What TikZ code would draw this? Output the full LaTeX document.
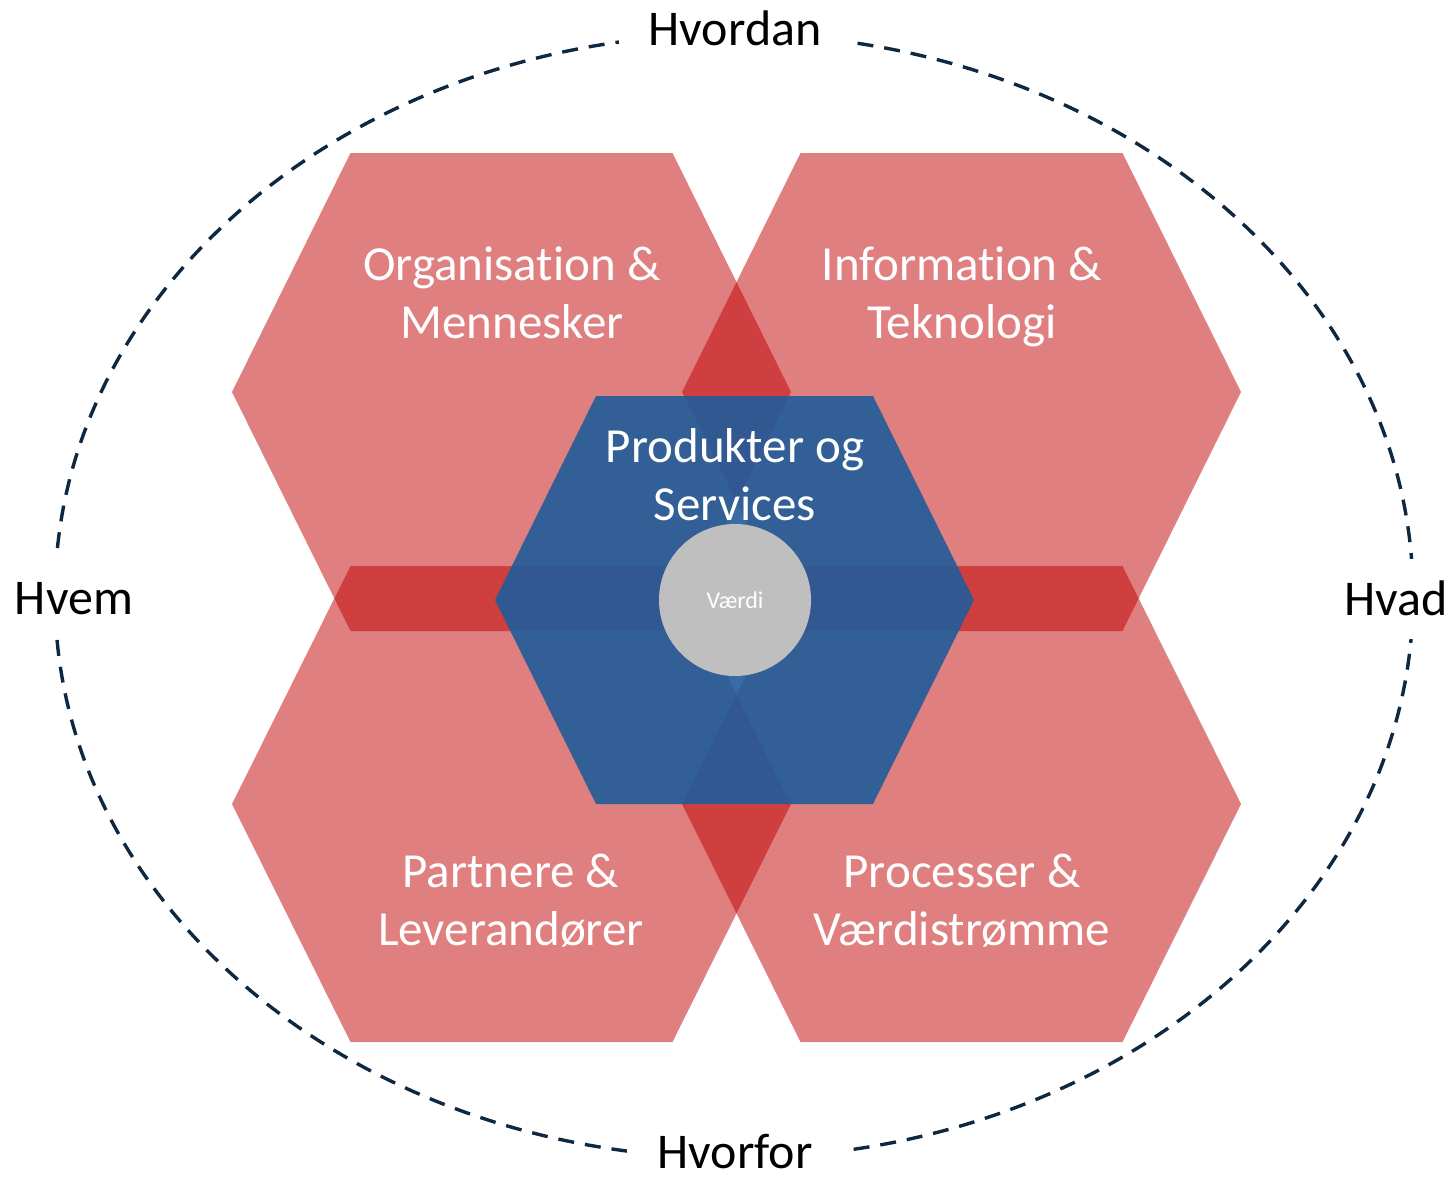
\documentclass[tikz,border=0pt]{standalone}
\usepackage{fontspec}
\setmainfont{Carlito}[Ligatures=NoCommon]
\definecolor{hexred}{HTML}{C00000}
\definecolor{hexblue}{HTML}{215C9B}
\definecolor{ringcol}{HTML}{0E2841}
\definecolor{valgray}{HTML}{BFBFBF}
\begin{document}
\begin{tikzpicture}[x=0.5pt,y=-0.5pt,
  redhex/.style={fill=hexred, fill opacity=0.5, draw=none},
  bluehex/.style={fill=hexblue, fill opacity=0.9, draw=none},
  hexlabel/.style={text=white, font=\fontsize{24.5}{29}\selectfont, anchor=base, inner sep=0pt},
  outerlabel/.style={text=black, font=\fontsize{25}{30}\selectfont, anchor=base, fill=white, inner xsep=15pt, inner ysep=12pt, text height=16pt, text depth=0pt},
  ring/.style={draw=ringcol, line width=1.7pt, dash pattern=on 8pt off 5.5pt}]
\useasboundingbox (0,0) rectangle (1456,1177);
% red hexagons
\fill[redhex] (232,392) -- (350.5,153) -- (672.5,153) -- (791,392) -- (672.5,631) -- (350.5,631) -- cycle;
\fill[redhex] (682,392) -- (800.5,153) -- (1122.5,153) -- (1241,392) -- (1122.5,631) -- (800.5,631) -- cycle;
\fill[redhex] (232,804) -- (350.5,566) -- (672.5,566) -- (791,804) -- (672.5,1042) -- (350.5,1042) -- cycle;
\fill[redhex] (682,804) -- (800.5,566) -- (1122.5,566) -- (1241,804) -- (1122.5,1042) -- (800.5,1042) -- cycle;
% blue hexagon
\fill[bluehex] (495,600) -- (596,396) -- (873,396) -- (974,600) -- (873,804) -- (596,804) -- cycle;
% value circle
\node (val) [circle, fill=valgray, minimum size=76pt, inner sep=0pt, text=white, font=\fontsize{12}{14}\selectfont] at (735,600) {Værdi};
% hexagon labels
\node[hexlabel] (tl1) at (512,280) {Organisation \&};
\node[hexlabel] (tl2) at (512,338) {Mennesker};
\node[hexlabel] (tr1) at (962,280) {Information \&};
\node[hexlabel] (tr2) at (962,338) {Teknologi};
\node[hexlabel] (bl1) at (511,887) {Partnere \&};
\node[hexlabel] (bl2) at (511,945) {Leverandører};
\node[hexlabel] (br1) at (962,887) {Processer \&};
\node[hexlabel] (br2) at (962,945) {Værdistrømme};
\node[hexlabel] (c1) at (735,462) {Produkter og};
\node[hexlabel] (c2) at (735,520) {Services};
% outer dashed ellipse
\draw[ring] (734,596) ellipse [x radius=339.5pt, y radius=281pt];
\node[outerlabel] (how) at (735,46) {Hvordan};
\node[outerlabel, inner ysep=1pt] (why) at (735,1168) {Hvorfor};
\node[outerlabel] (who) at (74,614) {Hvem};
\node[outerlabel] (what) at (1396,615) {Hvad};
\end{tikzpicture}
\end{document}
